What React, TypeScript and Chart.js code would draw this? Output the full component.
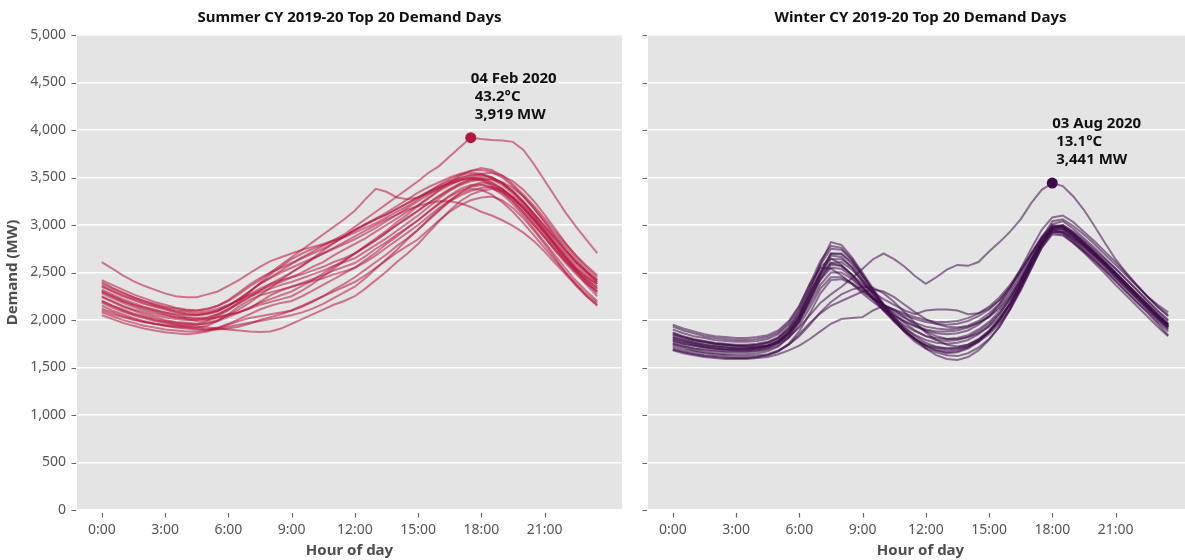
import React, { useEffect, useRef } from 'react';
import { Chart, registerables } from 'chart.js';

Chart.register(...registerables);

const FONT = "'Noto Sans', 'Open Sans', sans-serif";

// Half-hourly trading intervals (hours of day)
const HALF_HOURS = [
  0, 0.5, 1, 1.5, 2, 2.5, 3, 3.5, 4, 4.5, 5, 5.5,
  6, 6.5, 7, 7.5, 8, 8.5, 9, 9.5, 10, 10.5, 11, 11.5,
  12, 12.5, 13, 13.5, 14, 14.5, 15, 15.5, 16, 16.5, 17, 17.5,
  18, 18.5, 19, 19.5, 20, 20.5, 21, 21.5, 22, 22.5, 23, 23.5,
];
const HOUR_TICKS = [0, 3, 6, 9, 12, 15, 18, 21];
const DEMAND_TICKS = [0, 500, 1000, 1500, 2000, 2500, 3000, 3500, 4000, 4500, 5000];

const SUMMER_TITLE = 'Summer CY 2019-20 Top 20 Demand Days';
const WINTER_TITLE = 'Winter CY 2019-20 Top 20 Demand Days';
const SUMMER_PEAK_DATE = '04 Feb 2020';
const SUMMER_PEAK_TEMP = 43.2;
const WINTER_PEAK_DATE = '03 Aug 2020';
const WINTER_PEAK_TEMP = 13.1;

// Summer top-20 demand days (MW), first = peak day
const SUMMER_DEMAND: number[][] = [
  [2300,2250,2200,2160,2130,2100,2080,2060,2050,2050,2070,2100,2150,2220,2300,2380,2450,2520,2590,2660,2720,2780,2840,2900,2980,3060,3140,3220,3300,3380,3460,3550,3620,3720,3820,3919,3905,3895,3890,3875,3790,3640,3470,3300,3130,2980,2840,2705],
  [2610,2540,2470,2410,2360,2320,2280,2250,2240,2240,2270,2300,2360,2420,2490,2560,2620,2660,2700,2740,2770,2800,2840,2880,2940,3000,3060,3110,3170,3230,3290,3350,3410,3460,3500,3530,3530,3500,3440,3360,3250,3120,2990,2860,2730,2610,2500,2400],
  [2380,2330,2280,2240,2200,2170,2140,2120,2100,2100,2120,2150,2200,2270,2350,2420,2500,2580,2660,2740,2820,2900,2980,3060,3150,3270,3380,3350,3290,3270,3290,3330,3380,3430,3470,3490,3480,3440,3380,3290,3180,3060,2930,2790,2660,2540,2430,2330],
  [2200,2150,2100,2060,2030,2000,1980,1960,1950,1950,1970,2000,2050,2110,2180,2260,2340,2420,2500,2570,2640,2700,2760,2820,2880,2940,3000,3060,3110,3160,3200,3230,3250,3250,3230,3190,3140,3100,3050,2990,2920,2830,2720,2600,2480,2360,2250,2160],
  [2400,2340,2290,2240,2200,2160,2130,2100,2090,2080,2090,2120,2160,2210,2260,2310,2360,2400,2450,2500,2560,2610,2680,2740,2800,2860,2930,3000,3070,3140,3210,3290,3370,3450,3520,3570,3600,3580,3520,3430,3320,3200,3070,2930,2800,2680,2570,2470],
  [2050,2010,1970,1940,1910,1890,1870,1860,1850,1860,1880,1910,1950,1990,2020,2040,2060,2080,2100,2140,2190,2250,2320,2380,2450,2530,2610,2690,2780,2860,2950,3050,3150,3250,3340,3410,3450,3430,3370,3280,3160,3030,2890,2750,2620,2500,2370,2250],
  [2100,2060,2030,2000,1980,1960,1950,1940,1940,1930,1920,1910,1900,1890,1880,1875,1880,1910,1960,2010,2060,2110,2160,2200,2250,2330,2420,2510,2610,2700,2800,2920,3040,3150,3250,3320,3360,3380,3350,3280,3180,3060,2920,2780,2640,2510,2400,2300],
  [2300,2250,2200,2160,2120,2090,2060,2030,2010,1990,2000,2040,2100,2190,2290,2390,2480,2560,2640,2700,2750,2790,2830,2870,2920,2970,3020,3080,3140,3200,3270,3350,3420,3480,3530,3550,3540,3500,3440,3350,3240,3120,2990,2860,2730,2610,2500,2400],
  [2200,2150,2110,2070,2040,2010,1990,1970,1960,1950,1960,1990,2030,2080,2130,2180,2220,2260,2300,2360,2420,2490,2560,2630,2700,2770,2840,2920,3000,3070,3150,3230,3310,3380,3440,3480,3500,3480,3420,3330,3220,3090,2950,2810,2680,2550,2450,2350],
  [2350,2300,2250,2210,2170,2140,2110,2080,2060,2050,2060,2090,2150,2220,2300,2380,2440,2500,2550,2600,2650,2700,2750,2800,2850,2910,2970,3040,3110,3180,3250,3320,3390,3440,3490,3520,3540,3550,3520,3460,3370,3250,3110,2960,2810,2670,2550,2450],
  [2150,2100,2060,2020,1990,1960,1940,1920,1910,1900,1900,1920,1960,2010,2060,2110,2150,2180,2200,2250,2310,2370,2430,2490,2550,2630,2710,2800,2880,2970,3050,3140,3220,3300,3360,3400,3420,3390,3320,3220,3100,2960,2820,2680,2540,2410,2300,2200],
  [2250,2200,2150,2110,2080,2050,2030,2010,2000,2000,2020,2060,2120,2180,2240,2290,2330,2370,2400,2440,2480,2520,2570,2610,2650,2720,2790,2860,2940,3020,3100,3190,3280,3360,3430,3480,3470,3420,3350,3250,3130,3000,2870,2740,2620,2510,2420,2330],
  [2080,2040,2000,1970,1940,1920,1900,1890,1880,1880,1890,1910,1930,1950,1970,1990,2010,2030,2050,2080,2120,2170,2230,2290,2350,2440,2540,2640,2740,2850,2950,3060,3160,3250,3310,3360,3390,3400,3370,3300,3200,3080,2940,2800,2660,2530,2400,2280],
  [2320,2270,2220,2180,2140,2110,2080,2050,2030,2020,2030,2060,2110,2170,2240,2310,2380,2440,2500,2570,2650,2730,2810,2880,2950,3010,3070,3130,3200,3270,3340,3400,3450,3500,3540,3570,3580,3560,3500,3410,3300,3170,3030,2880,2740,2610,2510,2420],
  [2180,2130,2090,2050,2020,1990,1970,1950,1930,1920,1940,1990,2060,2140,2210,2260,2290,2320,2350,2380,2410,2440,2480,2510,2550,2610,2680,2760,2840,2920,3000,3090,3180,3260,3330,3380,3370,3320,3240,3140,3020,2890,2760,2630,2500,2380,2270,2180],
  [2280,2230,2180,2140,2100,2070,2050,2030,2020,2010,2010,2030,2050,2080,2120,2160,2190,2220,2250,2310,2380,2460,2540,2620,2700,2780,2860,2940,3030,3110,3200,3280,3360,3420,3470,3500,3520,3500,3440,3350,3240,3110,2970,2830,2700,2580,2470,2380],
  [2420,2370,2320,2270,2230,2190,2160,2130,2110,2100,2110,2150,2210,2290,2370,2440,2500,2550,2600,2650,2700,2750,2810,2880,2950,3010,3060,3110,3170,3230,3290,3350,3400,3440,3480,3500,3490,3450,3380,3290,3180,3050,2920,2780,2650,2540,2450,2380],
  [2120,2080,2040,2010,1980,1960,1940,1930,1920,1910,1900,1900,1910,1930,1960,2000,2030,2060,2100,2150,2200,2250,2300,2350,2400,2470,2550,2630,2710,2780,2850,2950,3050,3140,3210,3260,3290,3300,3260,3180,3070,2940,2800,2650,2500,2370,2250,2150],
  [2360,2310,2260,2220,2180,2150,2120,2090,2070,2060,2070,2100,2150,2210,2270,2330,2380,2420,2450,2480,2520,2560,2610,2650,2700,2770,2840,2920,3000,3080,3150,3230,3300,3370,3420,3460,3480,3480,3450,3390,3300,3180,3040,2900,2770,2640,2520,2420],
  [2240,2190,2140,2100,2060,2030,2000,1980,1970,1960,1990,2030,2060,2080,2120,2190,2260,2310,2350,2390,2430,2470,2520,2560,2600,2670,2750,2820,2900,2970,3050,3140,3230,3310,3380,3420,3430,3400,3340,3250,3130,3000,2870,2730,2600,2480,2380,2300],
];

// Winter top-20 demand days (MW), first = peak day
const WINTER_DEMAND: number[][] = [
  [1850,1820,1790,1770,1750,1740,1730,1720,1720,1730,1760,1820,1920,2050,2180,2270,2350,2440,2540,2640,2700,2640,2560,2460,2380,2450,2530,2580,2570,2610,2720,2820,2930,3060,3230,3370,3441,3410,3300,3160,2990,2810,2640,2500,2370,2250,2140,2050],
  [1870,1830,1800,1780,1760,1750,1740,1740,1750,1770,1820,1920,2090,2330,2590,2820,2790,2660,2500,2330,2170,2030,1900,1800,1700,1630,1590,1580,1610,1680,1790,1930,2120,2350,2590,2820,3010,3040,2960,2860,2760,2650,2540,2430,2320,2200,2090,1990],
  [1820,1790,1760,1740,1730,1720,1710,1710,1720,1740,1790,1880,2040,2270,2500,2700,2690,2590,2440,2280,2130,2000,1890,1800,1730,1680,1650,1660,1700,1770,1870,2000,2170,2380,2600,2800,2950,2960,2880,2790,2690,2590,2480,2370,2260,2150,2040,1940],
  [1780,1750,1730,1710,1700,1690,1690,1690,1700,1720,1770,1870,2040,2300,2560,2650,2580,2470,2350,2240,2150,2080,2020,1970,1930,1910,1900,1910,1930,1970,2030,2120,2250,2420,2620,2800,2930,2920,2840,2740,2640,2540,2440,2330,2220,2110,2000,1900],
  [1760,1730,1700,1690,1680,1670,1670,1670,1680,1700,1750,1840,1990,2200,2420,2550,2540,2450,2340,2230,2130,2050,1990,1940,1900,1880,1880,1890,1920,1970,2040,2140,2280,2450,2640,2820,2940,2930,2850,2760,2660,2560,2450,2340,2230,2120,2010,1910],
  [1900,1860,1830,1810,1790,1780,1770,1770,1780,1800,1850,1950,2110,2340,2580,2750,2740,2630,2470,2310,2160,2030,1920,1830,1760,1720,1700,1700,1720,1770,1850,1960,2110,2310,2540,2770,2960,3000,2930,2840,2740,2640,2540,2430,2320,2210,2100,2000],
  [1680,1650,1630,1610,1600,1590,1590,1590,1600,1610,1640,1680,1730,1800,1880,1960,2010,2020,2030,2100,2150,2110,2030,1950,1880,1830,1800,1800,1820,1860,1930,2030,2170,2350,2560,2760,2900,2890,2810,2720,2620,2520,2410,2300,2190,2080,1960,1840],
  [1720,1690,1670,1650,1640,1630,1620,1620,1630,1640,1680,1740,1830,1950,2080,2190,2270,2320,2350,2340,2280,2190,2080,1970,1870,1790,1740,1720,1740,1790,1870,1980,2130,2320,2540,2760,2920,2930,2860,2770,2670,2570,2460,2350,2240,2130,2020,1920],
  [1840,1810,1780,1760,1750,1740,1730,1730,1740,1760,1810,1900,2050,2260,2470,2600,2570,2480,2380,2290,2220,2160,2100,2060,2100,2110,2110,2100,2060,2070,2120,2210,2340,2510,2700,2880,3000,2990,2910,2810,2710,2610,2500,2390,2280,2170,2060,1960],
  [1750,1720,1700,1680,1670,1660,1660,1660,1670,1690,1730,1810,1940,2130,2330,2450,2450,2390,2310,2230,2160,2100,2050,2010,1980,1960,1950,1960,1990,2040,2110,2210,2350,2510,2690,2860,2980,2970,2890,2790,2690,2590,2480,2370,2260,2150,2040,1940],
  [1800,1770,1740,1720,1700,1690,1680,1680,1690,1710,1760,1860,2020,2260,2500,2700,2700,2610,2470,2310,2150,2000,1870,1770,1700,1660,1630,1620,1650,1710,1800,1930,2110,2330,2570,2800,2980,3000,2920,2820,2710,2600,2490,2380,2270,2150,2040,1930],
  [1820,1790,1760,1740,1720,1710,1700,1700,1710,1730,1780,1870,2010,2220,2440,2600,2610,2530,2410,2280,2160,2060,1970,1890,1830,1790,1780,1790,1820,1880,1960,2070,2220,2400,2610,2810,2960,2960,2880,2790,2690,2580,2470,2360,2250,2140,2030,1930],
  [1740,1710,1680,1660,1650,1640,1640,1640,1650,1670,1720,1820,1980,2220,2470,2680,2660,2550,2400,2240,2100,1980,1880,1800,1740,1710,1700,1710,1740,1800,1890,2010,2170,2370,2590,2790,2920,2900,2810,2710,2600,2490,2370,2260,2150,2040,1930,1830],
  [1950,1910,1880,1850,1830,1820,1810,1810,1820,1840,1890,1990,2150,2380,2550,2540,2470,2380,2280,2190,2110,2040,1980,1930,1890,1860,1850,1860,1890,1950,2040,2170,2340,2540,2750,2950,3080,3100,3030,2930,2830,2720,2610,2490,2370,2250,2140,2040],
  [1780,1750,1730,1710,1700,1690,1690,1690,1700,1720,1770,1860,2010,2220,2430,2580,2570,2480,2350,2220,2100,2000,1910,1840,1790,1760,1750,1760,1790,1850,1940,2060,2220,2410,2620,2820,2950,2950,2870,2780,2680,2580,2470,2360,2250,2140,2030,1930],
  [1700,1670,1650,1630,1620,1610,1600,1600,1610,1630,1670,1740,1850,1970,2070,2150,2200,2250,2300,2320,2300,2240,2160,2080,2010,1960,1930,1920,1940,1990,2070,2170,2310,2480,2680,2860,2990,2980,2900,2800,2700,2600,2490,2380,2270,2160,2050,1950],
  [1860,1820,1790,1770,1750,1740,1730,1730,1740,1760,1810,1910,2070,2290,2490,2640,2640,2560,2420,2270,2120,1990,1880,1790,1730,1700,1680,1690,1720,1790,1880,2000,2160,2360,2580,2800,2970,2990,2910,2820,2720,2610,2500,2390,2280,2170,2060,1960],
  [1800,1770,1750,1730,1720,1710,1700,1700,1710,1730,1770,1850,1980,2170,2370,2500,2500,2430,2330,2220,2110,2020,1940,1880,1830,1810,1800,1810,1840,1900,1980,2090,2240,2430,2640,2840,2970,2980,2900,2800,2700,2600,2490,2380,2270,2160,2050,1950],
  [1930,1890,1860,1830,1810,1800,1790,1790,1800,1820,1870,1970,2140,2380,2620,2780,2760,2640,2480,2310,2150,2010,1890,1790,1720,1680,1660,1670,1710,1780,1880,2010,2180,2390,2630,2860,3040,3060,2990,2900,2800,2690,2580,2470,2360,2250,2160,2080],
  [1690,1660,1640,1620,1610,1600,1600,1600,1610,1630,1670,1750,1880,2070,2280,2420,2430,2380,2300,2220,2160,2110,2070,2030,2000,1980,1980,1990,2020,2070,2140,2240,2370,2530,2700,2860,2950,2920,2830,2730,2630,2520,2410,2300,2190,2090,1980,1880],
];

type PanelSpec = {
  title: string;
  series: number[][];
  lineColor: string;
  dotColor: string;
  peakDate: string;
  peakTemp: number;
  showYLabels: boolean;
  yWidth: number;
  padRight: number;
  showYTitle: boolean;
};

const panelPlugin = {
  id: 'panel',
  beforeDraw(chart: any) {
    const { ctx, chartArea: a } = chart;
    ctx.save();
    ctx.fillStyle = '#e4e4e4';
    ctx.fillRect(a.left, a.top, a.right - a.left, a.bottom - a.top);
    ctx.restore();
  },
  afterDraw(chart: any, _args: any, opts: any) {
    const { ctx, chartArea: a } = chart;
    const xs = chart.scales.x;
    const ys = chart.scales.y;
    ctx.save();
    // tick marks
    ctx.strokeStyle = '#666';
    ctx.lineWidth = 1.2;
    ctx.beginPath();
    for (const v of DEMAND_TICKS) {
      const py = Math.round(ys.getPixelForValue(v)) + 0.5;
      ctx.moveTo(a.left - 5.5, py);
      ctx.lineTo(a.left - 1, py);
    }
    for (const v of HOUR_TICKS) {
      const px = Math.round(xs.getPixelForValue(v)) + 0.5;
      ctx.moveTo(px, a.bottom + 3);
      ctx.lineTo(px, a.bottom + 7.5);
    }
    ctx.stroke();

    const cx = (a.left + a.right) / 2;
    // title
    ctx.fillStyle = '#111';
    ctx.font = `bold 15px ${FONT}`;
    ctx.textAlign = 'center';
    ctx.textBaseline = 'middle';
    ctx.fillText(opts.title, cx, 18);

    // axis titles
    ctx.fillStyle = '#4d4d4d';
    ctx.font = `bold 15px ${FONT}`;
    ctx.fillText('Hour of day', cx, 551);

    if (opts.showYTitle) {
      ctx.save();
      ctx.translate(13, (a.top + a.bottom) / 2);
      ctx.rotate(-Math.PI / 2);
      ctx.fillText('Demand (MW)', 0, 0);
      ctx.restore();
    }

    // peak annotation
    const peakSeries: number[] = opts.series[0];
    let pk = 0;
    peakSeries.forEach((v: number, i: number) => { if (v > peakSeries[pk]) pk = i; });
    const px = xs.getPixelForValue(HALF_HOURS[pk]);
    const py = ys.getPixelForValue(peakSeries[pk]);
    ctx.fillStyle = '#111';
    ctx.font = `bold 15px ${FONT}`;
    ctx.textAlign = 'left';
    const lines = [
      opts.peakDate,
      ` ${opts.peakTemp.toFixed(1)}°C`,
      ` ${peakSeries[pk].toLocaleString('en-US')} MW`,
    ];
    lines.forEach((t, i) => ctx.fillText(t, px, py - 59 + i * 18));
    ctx.restore();
  },
};

function buildConfig(p: PanelSpec): any {
  const peakSeries = p.series[0];
  let pk = 0;
  peakSeries.forEach((v, i) => { if (v > peakSeries[pk]) pk = i; });
  const lineSets = p.series.map((s) => ({
    data: s.map((v, i) => ({ x: HALF_HOURS[i], y: v })),
    borderColor: p.lineColor,
    borderWidth: 2,
    pointRadius: 0,
    tension: 0,
    fill: false,
  }));
  return {
    type: 'line',
    data: {
      datasets: [
        ...lineSets,
        {
          data: [{ x: HALF_HOURS[pk], y: peakSeries[pk] }],
          showLine: false,
          pointRadius: 5.5,
          pointBackgroundColor: p.dotColor,
          pointBorderWidth: 0,
        },
      ],
    },
    options: {
      responsive: false,
      animation: false,
      events: [],
      layout: { padding: { left: 0, right: p.padRight, top: 35, bottom: 0 } },
      plugins: {
        legend: { display: false },
        tooltip: { enabled: false },
        title: { display: false },
        panel: {
          title: p.title,
          series: p.series,
          peakDate: p.peakDate,
          peakTemp: p.peakTemp,
          showYTitle: p.showYTitle,
        },
      },
      scales: {
        x: {
          type: 'linear',
          min: -1.175,
          max: 24.675,
          afterBuildTicks: (s: any) => { s.ticks = HOUR_TICKS.map((v) => ({ value: v })); },
          afterFit: (s: any) => { s.height = 50; },
          grid: { display: false, drawTicks: false },
          border: { display: false },
          ticks: {
            padding: 12,
            color: '#555',
            autoSkip: false,
            maxRotation: 0,
            font: { family: FONT, size: 14 },
            callback: (v: any) => `${v}:00`,
          },
        },
        y: {
          type: 'linear',
          min: 0,
          max: 5000,
          afterBuildTicks: (s: any) => { s.ticks = DEMAND_TICKS.map((v) => ({ value: v })); },
          afterFit: (s: any) => { s.width = p.yWidth; },
          grid: { color: '#ffffff', lineWidth: 1.5, drawTicks: false },
          border: { display: false },
          ticks: {
            display: p.showYLabels,
            padding: 11,
            color: '#555',
            font: { family: FONT, size: 14 },
            callback: (v: any) => Number(v).toLocaleString('en-US'),
          },
        },
      },
    },
    plugins: [panelPlugin],
  };
}

function Panel({ spec, left, width }: { spec: PanelSpec; left: number; width: number }) {
  const ref = useRef<HTMLCanvasElement>(null);
  useEffect(() => {
    if (!ref.current) return;
    const chart = new Chart(ref.current, buildConfig(spec));
    return () => chart.destroy();
  }, []);
  return (
    <canvas
      ref={ref}
      width={width}
      height={560}
      style={{ position: 'absolute', left, top: 0, width, height: 560 }}
    />
  );
}

export default function App() {
  const summer: PanelSpec = {
    title: SUMMER_TITLE,
    series: SUMMER_DEMAND,
    lineColor: 'rgba(182, 22, 62, 0.55)',
    dotColor: '#b0173f',
    peakDate: SUMMER_PEAK_DATE,
    peakTemp: SUMMER_PEAK_TEMP,
    showYLabels: true,
    yWidth: 77,
    padRight: 8,
    showYTitle: true,
  };
  const winter: PanelSpec = {
    title: WINTER_TITLE,
    series: WINTER_DEMAND,
    lineColor: 'rgba(62, 12, 72, 0.55)',
    dotColor: '#3c0a46',
    peakDate: WINTER_PEAK_DATE,
    peakTemp: WINTER_PEAK_TEMP,
    showYLabels: false,
    yWidth: 18,
    padRight: 7,
    showYTitle: false,
  };
  return (
    <div
      style={{
        position: 'absolute',
        left: 0,
        top: 0,
        width: 1185,
        height: 560,
        overflow: 'hidden',
        background: '#fff',
      }}
    >
      <Panel spec={summer} left={0} width={630} />
      <Panel spec={winter} left={630} width={570} />
    </div>
  );
}
